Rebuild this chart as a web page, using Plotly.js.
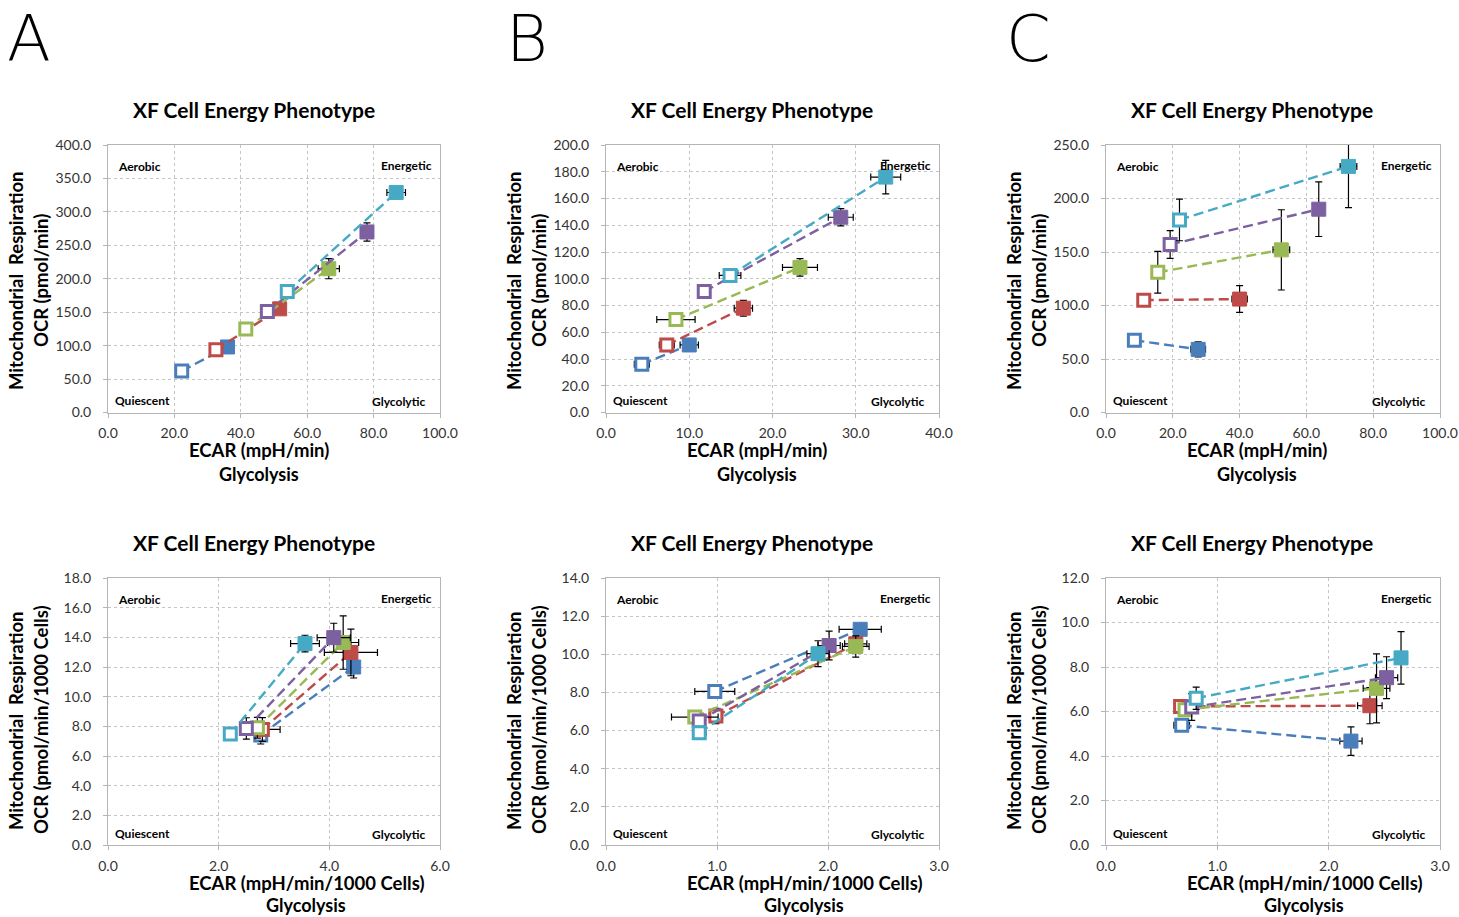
<!DOCTYPE html>
<html>
<head>
<meta charset="utf-8">
<script src="https://cdn.plot.ly/plotly-3.0.1.min.js"></script>
<style>html,body{margin:0;padding:0;background:#fff;}#chart{width:1459px;height:917px;}</style>
</head>
<body>
<div id="chart"></div>
<script>
// ---------- DATA ----------
const seriesNames = ['Series 1', 'Series 2', 'Series 3', 'Series 4', 'Series 5'];
const seriesColors = ['#4A7EBB', '#BE4B48', '#98B954', '#7D60A0', '#46AAC5'];

const panelLetters = ['A', 'B', 'C'];
const chartTitle = 'XF Cell Energy Phenotype';
const yTitleLine1 = 'Mitochondrial  Respiration';
const yTitleTop = 'OCR (pmol/min)';
const yTitleBottom = 'OCR (pmol/min/1000 Cells)';
const xTitleTop = 'ECAR (mpH/min)';
const xTitleBottom = 'ECAR (mpH/min/1000 Cells)';
const xTitleLine2 = 'Glycolysis';
const quadrantLabels = ['Aerobic', 'Energetic', 'Quiescent', 'Glycolytic'];

// Panel A, top (pmol/min)
const A1_baseX = [22.2, 32.5, 41.5, 48.0, 54.0];
const A1_baseY = [62, 94, 125, 151, 181];
const A1_baseErrX = [0.8, 0.6, 0.6, 0.6, 0.6];
const A1_baseErrY = [3, 3, 3, 3, 4];
const A1_stressX = [36.0, 51.7, 66.5, 78.0, 86.8];
const A1_stressY = [98, 155, 215, 270, 329];
const A1_stressErrX = [1.0, 1.6, 3.2, 1.0, 2.8];
const A1_stressErrY = [4, 6, 15, 13.7, 6];

// Panel B, top
const B1_baseX = [4.3, 7.3, 8.4, 11.8, 14.9];
const B1_baseY = [36, 50.5, 69.5, 90.5, 102.5];
const B1_baseErrX = [0.9, 0.9, 2.3, 0.5, 1.3];
const B1_baseErrY = [2, 2, 3, 2, 2];
const B1_stressX = [10.0, 16.5, 23.3, 28.2, 33.6];
const B1_stressY = [50.5, 78, 108.5, 146, 176];
const B1_stressErrX = [1.1, 1.1, 2.1, 1.5, 1.8];
const B1_stressErrY = [2, 5.9, 6.5, 6.4, 12.5];

// Panel C, top
const C1_baseX = [8.5, 11.3, 15.5, 19.2, 22.0];
const C1_baseY = [67.5, 105, 131, 157, 180];
const C1_baseErrX = [1, 1, 1, 1, 1];
const C1_baseErrY = [3, 3, 19.5, 13, 19.5];
const C1_stressX = [27.6, 40.0, 52.5, 63.7, 72.6];
const C1_stressY = [59, 106, 152, 190, 230];
const C1_stressErrX = [2.2, 2.3, 2.5, 1.0, 2.5];
const C1_stressErrY = [7, 12.5, 37.5, 25.5, 38.5];

// Panel A, bottom (per 1000 cells)
const A2_baseX = [2.76, 2.79, 2.70, 2.50, 2.21];
const A2_baseY = [7.41, 7.79, 7.90, 7.86, 7.48];
const A2_baseErrX = [0.1, 0.32, 0.1, 0.1, 0.1];
const A2_baseErrY = [0.6, 0.8, 0.7, 0.72, 0.4];
const A2_stressX = [4.44, 4.39, 4.25, 4.08, 3.56];
const A2_stressY = [12.0, 12.98, 13.65, 13.98, 13.58];
const A2_stressErrX = [0.1, 0.48, 0.28, 0.3, 0.26];
const A2_stressErrY = [0.74, 1.57, 1.8, 0.97, 0.56];

// Panel B, bottom
const B2_baseX = [0.98, 0.99, 0.80, 0.84, 0.84];
const B2_baseY = [8.05, 6.76, 6.71, 6.50, 5.89];
const B2_baseErrX = [0.18, 0.06, 0.21, 0.05, 0.06];
const B2_baseErrY = [0.3, 0.4, 0.2, 0.3, 0.3];
const B2_stressX = [2.29, 2.25, 2.25, 2.01, 1.91];
const B2_stressY = [11.31, 10.55, 10.41, 10.46, 10.03];
const B2_stressErrX = [0.19, 0.1, 0.12, 0.1, 0.1];
const B2_stressErrY = [0.3, 0.3, 0.56, 0.75, 0.68];

// Panel C, bottom
const C2_baseX = [0.68, 0.67, 0.71, 0.77, 0.81];
const C2_baseY = [5.38, 6.23, 6.08, 6.20, 6.60];
const C2_baseErrX = [0.07, 0.05, 0.05, 0.05, 0.05];
const C2_baseErrY = [0.2, 0.3, 0.3, 0.6, 0.5];
const C2_stressX = [2.20, 2.37, 2.43, 2.52, 2.65];
const C2_stressY = [4.67, 6.26, 7.04, 7.52, 8.41];
const C2_stressErrX = [0.1, 0.11, 0.12, 0.1, 0.05];
const C2_stressErrY = [0.64, 0.81, 1.55, 0.94, 1.18];

// axis ranges / ticks
const xMax = [100, 40, 100, 6, 3, 3];
const xStep = [20, 10, 20, 2, 1, 1];
const yMax = [400, 200, 250, 18, 14, 12];
const yStep = [50, 20, 50, 2, 2, 2];

// ---------- BUILD ----------
const panels = [
  [A1_baseX, A1_baseY, A1_baseErrX, A1_baseErrY, A1_stressX, A1_stressY, A1_stressErrX, A1_stressErrY],
  [B1_baseX, B1_baseY, B1_baseErrX, B1_baseErrY, B1_stressX, B1_stressY, B1_stressErrX, B1_stressErrY],
  [C1_baseX, C1_baseY, C1_baseErrX, C1_baseErrY, C1_stressX, C1_stressY, C1_stressErrX, C1_stressErrY],
  [A2_baseX, A2_baseY, A2_baseErrX, A2_baseErrY, A2_stressX, A2_stressY, A2_stressErrX, A2_stressErrY],
  [B2_baseX, B2_baseY, B2_baseErrX, B2_baseErrY, B2_stressX, B2_stressY, B2_stressErrX, B2_stressErrY],
  [C2_baseX, C2_baseY, C2_baseErrX, C2_baseErrY, C2_stressX, C2_stressY, C2_stressErrX, C2_stressErrY]
];

const W = 1459, H = 917;
const PX = v => v / W;
const PY = v => 1 - v / H;
const colLeft = [108, 606, 1106];
const colRight = [440, 939, 1440];
const rowTop = [145, 578];
const rowBottom = [412.5, 845];

const FONT = 'Lato, "Open Sans", sans-serif';
const traces = [];
const layout = {
  width: W, height: H,
  margin: {l: 0, r: 0, t: 0, b: 0},
  paper_bgcolor: '#fff', plot_bgcolor: '#fff',
  showlegend: false,
  annotations: []
};

panels.forEach((p, k) => {
  const col = k % 3, row = Math.floor(k / 3);
  const ax = k === 0 ? '' : String(k + 1);
  const [bx, by, bex, bey, sx, sy, sex, sey] = p;
  for (let i = 0; i < 5; i++) {
    // error bars underneath
    traces.push({
      type: 'scatter', mode: 'markers', name: seriesNames[i] + ' error',
      xaxis: 'x' + ax, yaxis: 'y' + ax,
      x: [bx[i], sx[i]], y: [by[i], sy[i]],
      marker: {size: 2, opacity: 0},
      error_x: {type: 'data', array: [bex[i], sex[i]], color: '#000', thickness: 1.2, width: 3.5},
      error_y: {type: 'data', array: [bey[i], sey[i]], color: '#000', thickness: 1.2, width: 3.5},
      hoverinfo: 'skip'
    });
    // dashed connector with baseline (open) and stressed (filled) markers
    traces.push({
      type: 'scatter', mode: 'lines+markers', name: seriesNames[i],
      xaxis: 'x' + ax, yaxis: 'y' + ax,
      x: [bx[i], sx[i]], y: [by[i], sy[i]],
      line: {color: seriesColors[i], width: 2.4, dash: '10px,5px'},
      marker: {symbol: 'square', size: [12, 14], color: ['#ffffff', seriesColors[i]],
               opacity: 1, line: {color: seriesColors[i], width: [3, 1]}},
      hoverinfo: 'skip'
    });
  }
  const common = {
    showline: true, mirror: true, linecolor: '#B5B5B5', linewidth: 1,
    showgrid: true, gridcolor: '#C4C4C4', griddash: '3px,3px', gridwidth: 1,
    zeroline: false, ticks: 'outside', ticklen: 4, tickcolor: '#B5B5B5',
    tickformat: '.1f', tickfont: {family: FONT, size: 14, color: '#333'},
    fixedrange: true
  };
  layout['xaxis' + ax] = Object.assign({}, common, {
    domain: [PX(colLeft[col]), PX(colRight[col])],
    anchor: 'y' + ax, range: [0, xMax[k]], dtick: xStep[k], tick0: 0,
    ticklabelstandoff: 4
  });
  layout['yaxis' + ax] = Object.assign({}, common, {
    domain: [PY(rowBottom[row]), PY(rowTop[row])],
    anchor: 'x' + ax, range: [0, yMax[k]], dtick: yStep[k], tick0: 0,
    ticklabelstandoff: 9
  });

  const L = colLeft[col], R = colRight[col], T = rowTop[row], B = rowBottom[row];
  const A = layout.annotations;
  const ann = (text, x, y, xa, size, bold, angle) => A.push({
    text: bold ? '<b>' + text + '</b>' : text, xref: 'paper', yref: 'paper',
    x: PX(x), y: PY(y), xanchor: xa, yanchor: 'middle', showarrow: false,
    textangle: angle || 0, font: {family: FONT, size: size, color: '#000'}
  });
  ann(chartTitle, L + 146, T - 36, 'center', 21, true);
  ann(yTitleLine1, L - 92, row === 0 ? 281 : 721, 'center', 18.5, true, -90);
  ann(row === 0 ? yTitleTop : yTitleBottom, L - 67, row === 0 ? 281 : 720, 'center', 18.5, true, -90);
  ann(row === 0 ? xTitleTop : xTitleBottom, L + (row === 0 ? 151 : 198), row === 0 ? 450 : 883, 'center', 18.5, true);
  ann(xTitleLine2, L + (row === 0 ? 151 : 198), row === 0 ? 474 : 905, 'center', 18, true);
  ann(quadrantLabels[0], L + 8, T + 21, 'left', 12, true);
  ann(quadrantLabels[1], R - 6, T + 20, 'right', 12, true);
  ann(quadrantLabels[2], L + 5, B - 12, 'left', 12, true);
  ann(quadrantLabels[3], R - 13, B - 11, 'right', 12, true);
});

[5, 504, 1004].forEach((x, i) => {
  layout.annotations.push({
    text: panelLetters[i], xref: 'paper', yref: 'paper', x: PX(x), y: PY(39),
    xanchor: 'left', yanchor: 'middle', showarrow: false,
    font: {family: '"DejaVu Sans", sans-serif', size: 64, color: '#000', weight: 200}
  });
});

Plotly.newPlot('chart', traces, layout, {staticPlot: true, displayModeBar: false});
</script>
</body>
</html>
